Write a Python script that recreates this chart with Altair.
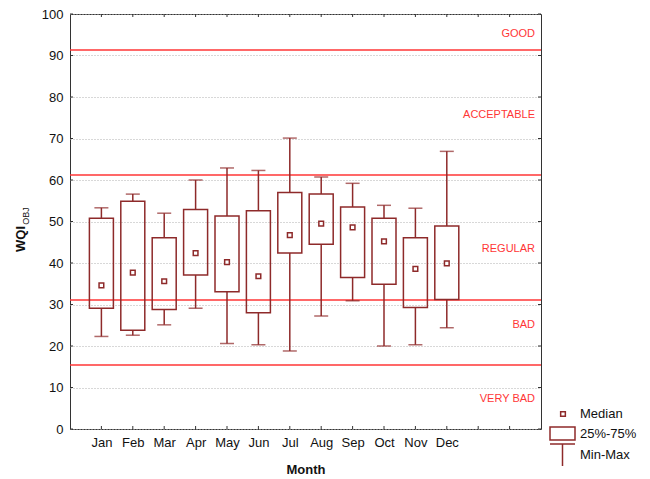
import altair as alt
import pandas as pd

# ---- data ----
months = ["Jan", "Feb", "Mar", "Apr", "May", "Jun", "Jul", "Aug", "Sep", "Oct", "Nov", "Dec"]
mins = [22.3, 22.6, 25.1, 29.1, 20.6, 20.3, 18.8, 27.2, 30.9, 20.0, 20.3, 24.4]
q1s = [29.1, 23.8, 28.8, 37.1, 33.1, 28.0, 42.4, 44.5, 36.5, 34.9, 29.3, 31.2]
medians = [34.6, 37.7, 35.6, 42.4, 40.2, 36.8, 46.7, 49.5, 48.6, 45.2, 38.6, 39.9]
q3s = [50.8, 54.9, 46.1, 52.9, 51.3, 52.6, 57.0, 56.6, 53.5, 50.8, 46.1, 48.9]
maxs = [53.3, 56.6, 52.0, 60.0, 62.9, 62.3, 70.1, 60.7, 59.2, 53.9, 53.2, 66.9]

zone_limits = [91.3, 61.2, 31.1, 15.4]
zone_labels = ["GOOD", "ACCEPTABLE", "REGULAR", "BAD", "VERY BAD"]
zone_label_y = [95.3, 75.6, 43.3, 25.1, 7.2]

y_ticks = list(range(0, 101, 10))
slots = months + [" ", "  "]

legend_labels = ["Median", "25%-75%", "Min-Max"]

# ---- styling ----
W, H = 471, 415
BOX = "#8E2A2A"
RED = "#FF3636"
FRAME = "#333333"
FONT = "Liberation Sans"

df = pd.DataFrame(dict(month=months, lo=mins, q1=q1s, med=medians, q3=q3s, hi=maxs))
zones = pd.DataFrame(dict(v=zone_limits))
zlab = pd.DataFrame(dict(label=zone_labels, yl=zone_label_y))
slot_df = pd.DataFrame(dict(month=slots))
ytick_df = pd.DataFrame(dict(t=y_ticks))

xs = alt.Scale(type="point", domain=slots, padding=1)
ys = alt.Scale(domain=[0, 100], nice=False, zero=False)

x_axis = alt.Axis(title="Month", labelAngle=0, ticks=False, domain=False, grid=False,
                  labelFontSize=13, labelPadding=7, labelColor="#111111",
                  titleFontSize=13, titleFontWeight="bold", titlePadding=14, titleColor="#111111")
y_axis = alt.Axis(values=y_ticks, title=None, ticks=False, domain=False, grid=True,
                  gridColor="#b0b0b0", gridDash=[1, 2], gridWidth=1,
                  labelFontSize=13, labelPadding=7, labelColor="#111111")


def X():
    return alt.X("month:N", scale=xs, sort=slots, axis=x_axis, title="Month")


def Y(field):
    return alt.Y(field, scale=ys, axis=y_axis, title=None)


grid_layer = alt.Chart(ytick_df).mark_rule(opacity=0).encode(y=Y("t:Q"))

zone_lines = alt.Chart(zones).mark_rule(color=RED, strokeWidth=1.5).encode(y=Y("v:Q"))

zone_text = alt.Chart(zlab).mark_text(align="right", baseline="middle", color=RED,
                                      fontSize=11, font=FONT).encode(
    x=alt.value(W - 6), y=Y("yl:Q"), text="label:N"
)

base = alt.Chart(df)
wh_lo = base.mark_rule(color=BOX, strokeWidth=1.5).encode(x=X(), y=Y("lo:Q"), y2="q1:Q")
wh_hi = base.mark_rule(color=BOX, strokeWidth=1.5).encode(x=X(), y=Y("q3:Q"), y2="hi:Q")
cap_lo = base.mark_tick(color=BOX, size=14, thickness=1.5, orient="horizontal").encode(
    x=X(), y=Y("lo:Q"))
cap_hi = base.mark_tick(color=BOX, size=14, thickness=1.5, orient="horizontal").encode(
    x=X(), y=Y("hi:Q"))
boxes = base.mark_bar(size=24, fill="white", fillOpacity=0, stroke=BOX, strokeWidth=1.5).encode(
    x=X(), y=Y("q1:Q"), y2="q3:Q")
meds = base.mark_square(size=22, fill="white", stroke=BOX, strokeWidth=1.5, opacity=1).encode(
    x=X(), y=Y("med:Q"))

# inward tick marks on all four sides
tick_b = alt.Chart(slot_df).mark_rule(color=FRAME).encode(x=X(), y=alt.value(H), y2=alt.value(H - 3))
tick_t = alt.Chart(slot_df).mark_rule(color=FRAME).encode(x=X(), y=alt.value(0), y2=alt.value(3))
tick_l = alt.Chart(ytick_df).mark_rule(color=FRAME).encode(y=Y("t:Q"), x=alt.value(0), x2=alt.value(3))
tick_r = alt.Chart(ytick_df).mark_rule(color=FRAME).encode(y=Y("t:Q"), x=alt.value(W - 3), x2=alt.value(W))

# y-axis title with subscript
ttl_main = alt.Chart(pd.DataFrame(dict(t=["WQI"]))).mark_text(
    angle=270, fontSize=13, fontWeight="bold", font=FONT, color="#111111",
    align="center", baseline="middle").encode(x=alt.value(-49), y=alt.value(225), text="t:N")
ttl_sub = alt.Chart(pd.DataFrame(dict(t=["OBJ"]))).mark_text(
    angle=270, fontSize=9, font=FONT, color="#111111",
    align="center", baseline="middle").encode(x=alt.value(-44), y=alt.value(202), text="t:N")

# custom legend (Median / 25%-75% / Min-Max)
leg_med = alt.Chart(pd.DataFrame(dict(k=[legend_labels[0]]))).mark_square(
    size=22, fill="white", stroke=BOX, strokeWidth=1.5, opacity=1).encode(
    x=alt.value(493), y=alt.value(400))
leg_box = alt.Chart(pd.DataFrame(dict(k=[legend_labels[1]]))).mark_rect(
    fill="white", fillOpacity=0, stroke=BOX, strokeWidth=1.5).encode(
    x=alt.value(480), x2=alt.value(505), y=alt.value(413), y2=alt.value(426))
leg_cap = alt.Chart(pd.DataFrame(dict(k=[legend_labels[2]]))).mark_rule(
    color=BOX, strokeWidth=1.5).encode(
    x=alt.value(480), x2=alt.value(505), y=alt.value(430))
leg_wh = alt.Chart(pd.DataFrame(dict(k=[legend_labels[2]]))).mark_rule(
    color=BOX, strokeWidth=1.5).encode(
    x=alt.value(492.5), y=alt.value(430), y2=alt.value(452))
leg_texts = [
    alt.Chart(pd.DataFrame(dict(k=[lab]))).mark_text(
        align="left", baseline="middle", fontSize=13, font=FONT, color="#111111").encode(
        x=alt.value(510), y=alt.value(yy), text="k:N")
    for lab, yy in zip(legend_labels, [400, 420, 441])
]

chart = alt.layer(
    grid_layer, zone_lines, wh_lo, wh_hi, cap_lo, cap_hi, boxes, meds, zone_text,
    tick_b, tick_t, tick_l, tick_r, ttl_main, ttl_sub,
    leg_med, leg_box, leg_cap, leg_wh, *leg_texts,
).properties(
    width=W, height=H,
    autosize=alt.AutoSizeParams(type="none"),
    padding={"left": 62, "top": 6, "right": 100, "bottom": 50},
).configure_view(
    stroke=FRAME, strokeWidth=1
).configure_axis(
    labelFont=FONT, titleFont=FONT
)

chart.save("out.html", embed_options={"renderer": "svg", "actions": False})
